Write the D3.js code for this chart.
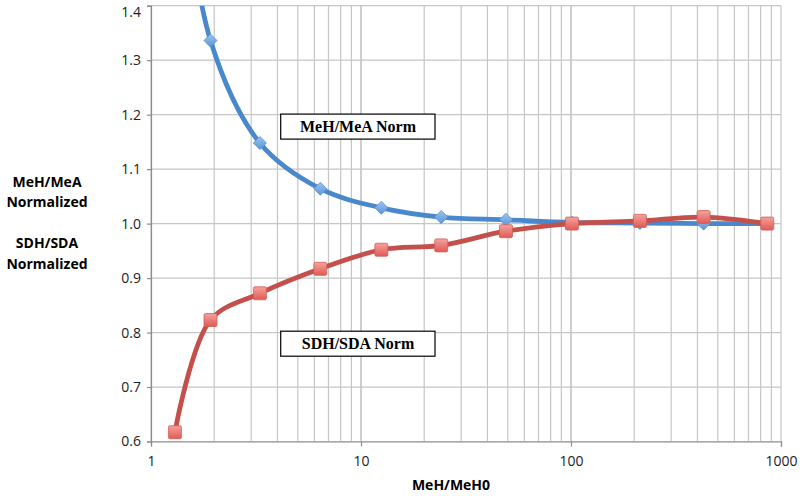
<!DOCTYPE html>
<html>
<head>
<meta charset="utf-8">
<script src="https://cdn.jsdelivr.net/npm/d3@7/dist/d3.min.js"></script>
<style>
  body { margin: 0; background: #fff; }
  svg { display: block; }
</style>
</head>
<body>
<script>
// values
var xValues   = [1.3, 1.92, 3.3, 6.4, 12.5, 24.1, 49, 101, 213, 428, 860];
var mehMea    = [1.75, 1.336, 1.148, 1.064, 1.029, 1.012, 1.007, 1.002, 1.001, 1.0, 1.0];
var sdhSda    = [0.617, 0.823, 0.872, 0.917, 0.952, 0.960, 0.986, 1.000, 1.005, 1.012, 1.0];
var yTicks    = [0.6, 0.7, 0.8, 0.9, 1.0, 1.1, 1.2, 1.3, 1.4];
var xTicks    = [1, 10, 100, 1000];
var yTitle    = ["MeH/MeA", "Normalized", "", "SDH/SDA", "Normalized"];
var xTitle    = "MeH/MeH0";
var labels    = ["MeH/MeA Norm", "SDH/SDA Norm"];

var width = 800, height = 496;
var pLeft = 151, pRight = 781, pTop = 5.7, pBottom = 441.5;

var svg = d3.select("body").append("svg")
    .attr("width", width)
    .attr("height", height);

var x = d3.scaleLog().domain([1, 1000]).range([pLeft, pRight]);
var y = d3.scaleLinear().domain([0.6, 1.4]).range([pBottom, pTop]);

// minor log gridlines
var minor = [];
xTicks.slice(0, 3).forEach(function (d) {
  for (var k = 1; k <= 10; k++) minor.push(d * k);
});
svg.append("g").selectAll("line.v")
  .data(minor)
  .enter().append("line")
    .attr("x1", function (d) { return x(d); })
    .attr("x2", function (d) { return x(d); })
    .attr("y1", pTop)
    .attr("y2", pBottom)
    .attr("stroke", "#c6c6c6")
    .attr("stroke-width", 1.2);

svg.append("g").selectAll("line.h")
  .data(yTicks)
  .enter().append("line")
    .attr("x1", pLeft)
    .attr("x2", pRight)
    .attr("y1", function (d) { return y(d); })
    .attr("y2", function (d) { return y(d); })
    .attr("stroke", "#c6c6c6")
    .attr("stroke-width", 1.2);

// axes
var yAxis = svg.append("g")
    .attr("transform", "translate(" + pLeft + ",0)")
    .call(d3.axisLeft(y).tickValues(yTicks).tickFormat(d3.format(".1f")).tickSizeOuter(0).tickSize(4).tickPadding(6));
var xAxis = svg.append("g")
    .attr("transform", "translate(0," + pBottom + ")")
    .call(d3.axisBottom(x).tickValues(xTicks).tickFormat(d3.format("d")).tickSizeOuter(0).tickSize(5).tickPadding(10));

[xAxis, yAxis].forEach(function (a) {
  a.select(".domain").attr("stroke", "#8c8c8c").attr("stroke-width", 1.2);
  a.selectAll(".tick line").attr("stroke", "#8c8c8c").attr("stroke-width", 1.2);
  a.selectAll("text")
    .attr("fill", "#222")
    .style("font-family", "'Open Sans', sans-serif")
    .style("font-size", "14px");
});
// keep the top label inside the picture
yAxis.selectAll(".tick text").filter(function (d) { return d === 1.4; }).attr("dy", "0.75em");

// clip region
svg.append("clipPath").attr("id", "plot")
  .append("rect")
    .attr("x", pLeft - 10).attr("y", pTop)
    .attr("width", pRight - pLeft + 20).attr("height", pBottom - pTop + 10);

var defs = svg.append("defs");
var gb = defs.append("linearGradient").attr("id", "gBlue").attr("x1", 0).attr("y1", 0).attr("x2", 0).attr("y2", 1);
gb.append("stop").attr("offset", "0%").attr("stop-color", "#9cc4ee");
gb.append("stop").attr("offset", "100%").attr("stop-color", "#5a95d8");
var gr = defs.append("linearGradient").attr("id", "gRed").attr("x1", 0).attr("y1", 0).attr("x2", 0).attr("y2", 1);
gr.append("stop").attr("offset", "0%").attr("stop-color", "#f6a19c");
gr.append("stop").attr("offset", "100%").attr("stop-color", "#e05a55");

var line = d3.line()
    .x(function (d) { return x(d[0]); })
    .y(function (d) { return y(d[1]); })
    .curve(d3.curveCatmullRom.alpha(0.5));

var blueData = d3.zip(xValues, mehMea);
var redData = d3.zip(xValues, sdhSda);

var plot = svg.append("g").attr("clip-path", "url(#plot)");

plot.append("path")
    .datum(blueData)
    .attr("d", line)
    .attr("fill", "none")
    .attr("stroke", "#4a88cc")
    .attr("stroke-width", 4.8);

plot.append("path")
    .datum(redData)
    .attr("d", line)
    .attr("fill", "none")
    .attr("stroke", "#c4504c")
    .attr("stroke-width", 4.8);

// diamonds
plot.selectAll("path.dia")
  .data(blueData.filter(function (d) { return d[1] <= 1.4; }))
  .enter().append("path")
    .attr("d", d3.symbol().type(d3.symbolDiamond2).size(110))
    .attr("transform", function (d) { return "translate(" + x(d[0]) + "," + y(d[1]) + ")"; })
    .attr("fill", "url(#gBlue)")
    .attr("stroke", "#5b93d4")
    .attr("stroke-width", 0.8);

// squares
plot.selectAll("rect.sq")
  .data(redData)
  .enter().append("rect")
    .attr("x", function (d) { return x(d[0]) - 6.5; })
    .attr("y", function (d) { return y(d[1]) - 6.5; })
    .attr("width", 13)
    .attr("height", 13)
    .attr("rx", 1.5)
    .attr("fill", "url(#gRed)")
    .attr("stroke", "#d0605b")
    .attr("stroke-width", 0.8);

// series label boxes
var boxes = [{ t: labels[0], cy: 126.6 }, { t: labels[1], cy: 343.7 }];
boxes.forEach(function (b) {
  svg.append("rect")
    .attr("x", 280.7)
    .attr("y", b.cy - 12.5)
    .attr("width", 154.3)
    .attr("height", 25)
    .attr("fill", "#fff")
    .attr("stroke", "#000")
    .attr("stroke-width", 1.2);
  svg.append("text")
    .attr("x", 358)
    .attr("y", b.cy + 5.5)
    .attr("text-anchor", "middle")
    .style("font-family", "'Liberation Serif', 'Times New Roman', serif")
    .style("font-weight", "bold")
    .style("font-size", "16px")
    .text(b.t);
});

// axis titles
svg.append("text")
    .attr("x", 451)
    .attr("y", 490)
    .attr("text-anchor", "middle")
    .style("font-family", "'Open Sans', sans-serif")
    .style("font-weight", "bold")
    .style("font-size", "14px")
    .text(xTitle);

svg.append("g").selectAll("text")
  .data(yTitle)
  .enter().append("text")
    .attr("x", 47)
    .attr("y", function (d, i) { return 186.5 + i * 20.6; })
    .attr("text-anchor", "middle")
    .style("font-family", "'Open Sans', sans-serif")
    .style("font-weight", "bold")
    .style("font-size", "14px")
    .text(function (d) { return d; });
</script>
</body>
</html>
